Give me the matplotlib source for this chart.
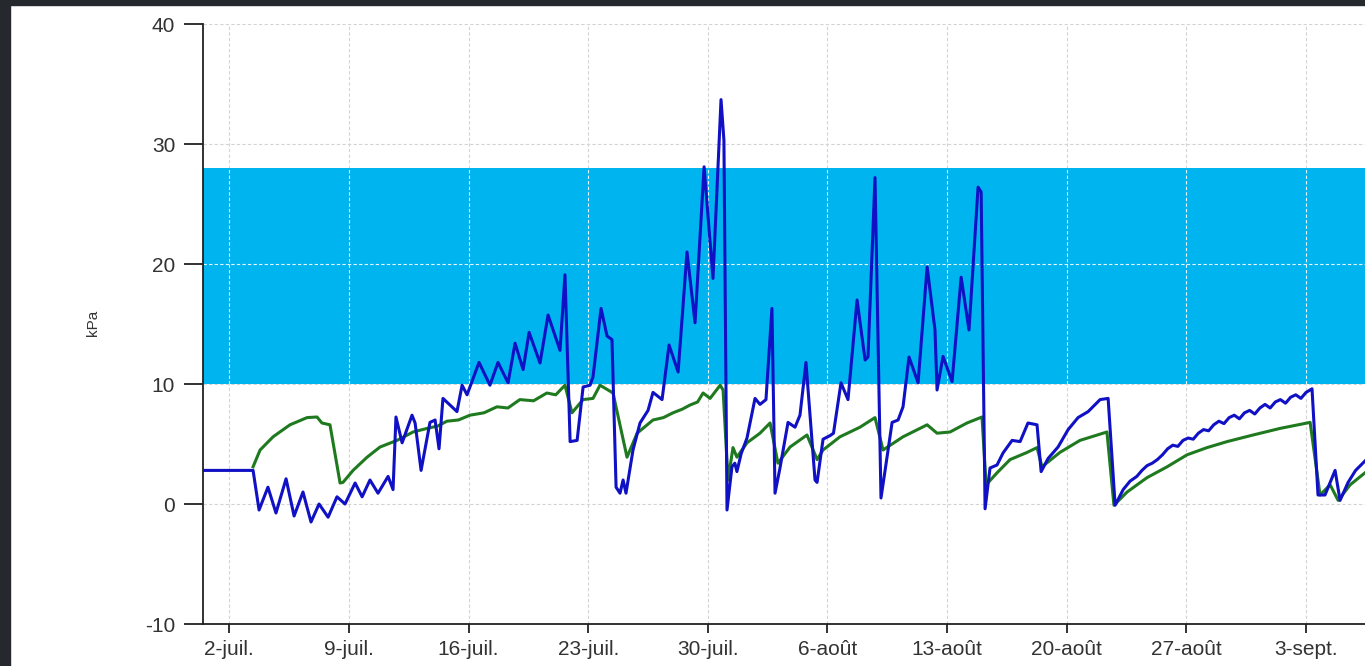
import matplotlib
matplotlib.use("Agg")
import matplotlib.pyplot as plt
from matplotlib.patches import Rectangle
import pandas as pd

plt.rcParams['font.family'] = ['Liberation Sans', 'DejaVu Sans']
plt.rcParams['axes.unicode_minus'] = False

# days counted from 1 July (fractional), values in kPa
blue_days = [-0.6, 2.39, 2.74, 3.26, 3.73, 4.32, 4.79, 5.31, 5.78, 6.25, 6.78, 7.30, 7.77,
             8.36, 8.77, 9.23, 9.70, 10.29, 10.58, 10.75, 11.11, 11.69, 11.87, 12.22, 12.74,
             13.04, 13.27, 13.50, 13.91, 14.32, 14.62, 14.91, 15.61, 16.25, 16.72, 17.31,
             17.72, 18.19, 18.54, 19.18, 19.65, 20.35, 20.64, 20.94, 21.35, 21.70, 22.11,
             22.28, 22.75, 23.10, 23.39, 23.63, 23.86, 24.04, 24.21, 24.62, 25.03, 25.50,
             25.79, 26.32, 26.73, 27.26, 27.78, 28.25, 28.78, 29.30, 29.77, 29.94, 30.12,
             30.41, 30.58, 30.70, 30.95, 31.29, 31.76, 32.05, 32.40, 32.75, 32.93, 33.22,
             33.69, 34.10, 34.39, 34.74, 35.27, 35.39, 35.74, 36.15, 36.35, 36.79, 37.20,
             37.73, 38.20, 38.37, 38.78, 39.13, 39.37, 39.78, 40.13, 40.42, 40.77, 41.30,
             41.83, 42.29, 42.41, 42.76, 43.29, 43.82, 44.28, 44.81, 44.99, 45.22, 45.51,
             45.92, 46.27, 46.80, 47.27, 47.73, 48.26, 48.50, 48.91, 49.49, 50.08, 50.66,
             51.25, 51.95, 52.42, 52.83, 53.30, 53.7, 54.1, 54.4, 54.7, 55.0, 55.3, 55.6,
             55.9, 56.2, 56.5, 56.8, 57.1, 57.4, 57.7, 58.0, 58.3, 58.6, 58.9, 59.2, 59.5,
             59.8, 60.1, 60.4, 60.7, 61.0, 61.3, 61.6, 61.9, 62.2, 62.5, 62.8, 63.1, 63.4,
             63.7, 64.0, 64.35, 64.70, 65.11, 65.70, 65.99, 66.46, 66.9, 67.6]
blue_kpa = [2.8, 2.8, -0.5, 1.4, -0.75, 2.1, -1.0, 1.0, -1.5, 0.0, -1.1, 0.6, 0.0,
            1.75, 0.6, 2.0, 0.9, 2.3, 1.2, 7.25, 5.1, 7.4, 6.75, 2.8, 6.8,
            7.0, 4.6, 8.8, 8.25, 7.7, 9.9, 9.1, 11.8, 9.9, 11.8, 10.1,
            13.4, 11.2, 14.3, 11.75, 15.75, 12.8, 19.1, 5.2, 5.3, 9.75, 9.9,
            10.6, 16.3, 14.0, 13.7, 1.4, 0.9, 2.0, 0.9, 4.5, 6.75, 7.8,
            9.3, 8.7, 13.25, 11.0, 21.0, 15.1, 28.1, 18.8, 33.7, 30.3, -0.5,
            3.1, 3.4, 2.7, 4.2, 5.5, 8.8, 8.3, 8.7, 16.3, 0.9, 3.0,
            6.8, 6.4, 7.4, 11.8, 2.0, 1.8, 5.4, 5.7, 5.9, 10.1, 8.7,
            17.0, 12.0, 12.25, 27.2, 0.5, 2.8, 6.8, 7.0, 8.1, 12.25, 10.1,
            19.75, 14.5, 9.5, 12.3, 10.2, 18.9, 14.5, 26.4, 26.0, -0.4, 3.0,
            3.25, 4.25, 5.3, 5.2, 6.75, 6.6, 2.7, 3.8, 4.75, 6.2, 7.2,
            7.7, 8.7, 8.8, -0.1, 1.2, 1.9, 2.3, 2.8, 3.2, 3.4, 3.7, 4.1,
            4.6, 4.9, 4.8, 5.3, 5.5, 5.4, 5.9, 6.2, 6.1, 6.6, 6.9, 6.7, 7.2,
            7.4, 7.1, 7.6, 7.8, 7.5, 8.0, 8.3, 8.0, 8.5, 8.7, 8.4, 8.9, 9.1,
            8.8, 9.3, 9.6, 0.75, 0.75, 2.8, 0.3, 1.8, 2.8, 3.8]

green_days = [2.39, 2.80, 3.56, 4.55, 5.55, 6.13, 6.42, 6.89, 7.48, 7.65, 8.24, 9.06,
              9.82, 10.81, 11.75, 12.57, 13.2, 13.73, 14.4, 15.08, 15.9, 16.66, 17.3,
              18.00, 18.8, 19.58, 20.1, 20.64, 21.05, 21.70, 22.28, 22.69, 23.45, 24.27,
              24.86, 25.79, 26.4, 26.96, 27.5, 27.96, 28.4, 28.72, 29.13, 29.72, 29.89,
              30.18, 30.47, 30.70, 31.29, 32.05, 32.64, 33.10, 33.81, 34.80, 35.39,
              35.74, 36.73, 37.90, 38.78, 39.25, 40.42, 41.83, 42.41, 43.17, 44.16,
              45.04, 45.28, 45.92, 46.68, 47.68, 48.26, 48.55, 49.60, 50.77, 52.35,
              52.76, 53.53, 54.70, 55.87, 57.04, 58.21, 59.38, 60.90, 62.48, 64.24,
              64.82, 65.41, 65.88, 66.58, 67.45]
green_kpa = [3.1, 4.5, 5.6, 6.6, 7.2, 7.25, 6.75, 6.6, 1.75, 1.8, 2.8, 3.9,
             4.75, 5.3, 6.0, 6.3, 6.5, 6.9, 7.0, 7.4, 7.6, 8.1, 8.0,
             8.7, 8.6, 9.25, 9.1, 9.9, 7.6, 8.7, 8.8, 9.9, 9.25, 3.9,
             5.9, 7.0, 7.2, 7.6, 7.9, 8.25, 8.5, 9.25, 8.8, 9.9, 9.5,
             2.0, 4.7, 3.9, 5.1, 5.9, 6.75, 3.4, 4.75, 5.75, 3.7,
             4.5, 5.6, 6.4, 7.2, 4.5, 5.6, 6.6, 5.9, 6.0, 6.75,
             7.25, 1.6, 2.6, 3.7, 4.3, 4.7, 3.1, 4.3, 5.3, 6.0,
             -0.1, 1.0, 2.2, 3.1, 4.1, 4.7, 5.2, 5.75, 6.3, 6.8,
             0.75, 1.6, 0.3, 1.6, 2.6]

band_low, band_high = 10, 28
tick_labels = ['2-juil.', '9-juil.', '16-juil.', '23-juil.', '30-juil.', '6-août',
               '13-août', '20-août', '27-août', '3-sept.']

base = pd.Timestamp('2014-07-01')
blue_t = base + pd.to_timedelta(blue_days, unit='D')
green_t = base + pd.to_timedelta(green_days, unit='D')
tick_t = pd.date_range('2014-07-02', periods=len(tick_labels), freq='7D')

fig = plt.figure(figsize=(13.65, 6.66), dpi=100)
fig.patch.set_facecolor('white')
# dark photo edge behind the chart
fig.patches.append(Rectangle((0, 0), 10 / 1365, 1, transform=fig.transFigure,
                             color='#25292d', zorder=0))
fig.patches.append(Rectangle((0, 1 - 5 / 666), 1, 5 / 666, transform=fig.transFigure,
                             color='#25292d', zorder=0))

ax = fig.add_axes([203 / 1365, 42 / 666, 1 - 203 / 1365, 600 / 666])
ax.set_facecolor('white')

ax.axhspan(band_low, band_high, color='#00b4f0', zorder=1, lw=0)

ax.set_xlim(base + pd.Timedelta(days=-0.54), base + pd.Timedelta(days=67.45))
ax.set_ylim(-10, 40)
ax.set_yticks([-10, 0, 10, 20, 30, 40])
ax.set_xticks(tick_t)
ax.set_xticklabels(tick_labels)

ax.grid(True, color='#d4d4d4', linestyle=(0, (3, 2)), linewidth=0.8, zorder=0)
ax.set_axisbelow(True)
# grid shows white through the band
ax.vlines(tick_t, band_low, band_high, colors='#e8f8ff', linestyles=(0, (3, 2)),
          linewidth=0.8, zorder=2)
ax.hlines([20], ax.get_xlim()[0], ax.get_xlim()[1], colors='#e8f8ff',
          linestyles=(0, (3, 2)), linewidth=0.8, zorder=2)

ax.plot(green_t, green_kpa, color='#1f7a1f', lw=2.2, zorder=3)
ax.plot(blue_t, blue_kpa, color='#1010c4', lw=2.2, zorder=4)

for s in ['top', 'right']:
    ax.spines[s].set_visible(False)
for s in ['left', 'bottom']:
    ax.spines[s].set_linewidth(1.3)
    ax.spines[s].set_color('#222222')

ax.tick_params(axis='both', width=1.3, color='#222222',
               labelsize=15, labelcolor='#333333')
ax.tick_params(axis='y', length=14, pad=6)
ax.tick_params(axis='x', length=6.5, pad=5)

fig.text(93 / 1365, 1 - 323 / 666, 'kPa', rotation=90, fontsize=11,
         color='#333333', ha='center', va='center')

fig.savefig('out.png', dpi=100)
